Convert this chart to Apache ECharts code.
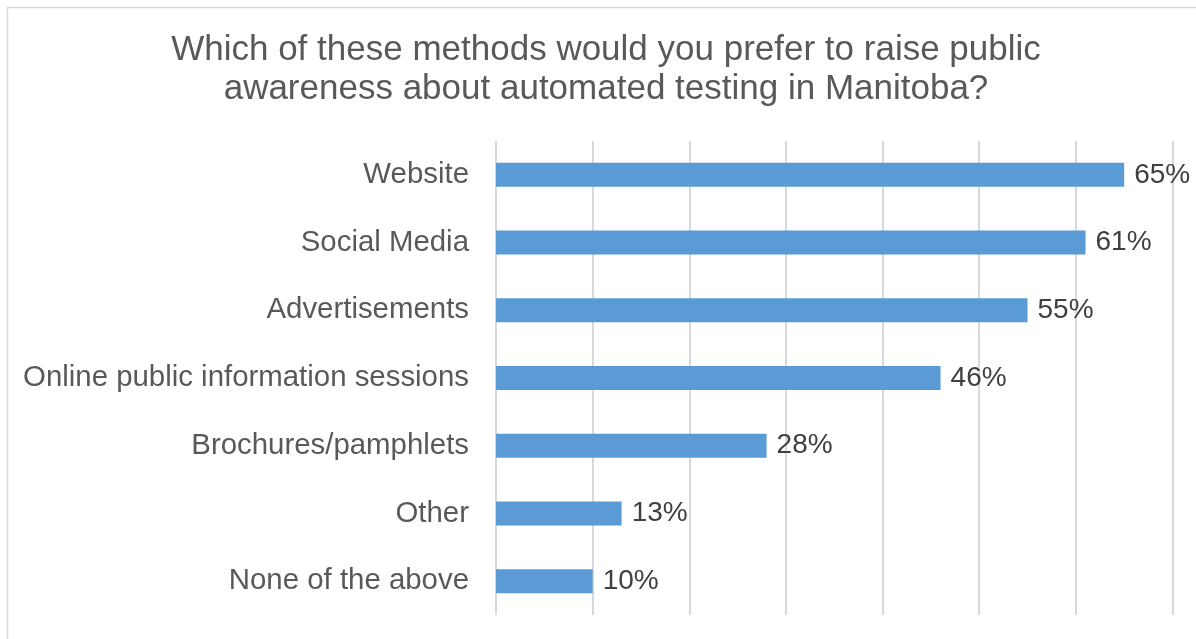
<!DOCTYPE html>
<html>
<head>
<meta charset="utf-8">
<script src="https://cdn.jsdelivr.net/npm/echarts@6/dist/echarts.min.js"></script>
<style>
  html, body { margin: 0; padding: 0; background: #ffffff; }
  #chart { width: 1196px; height: 639px; }
</style>
</head>
<body>
<div id="chart"></div>
<script>
// Survey answers, listed top to bottom
const categories = [
  'Website',
  'Social Media',
  'Advertisements',
  'Online public information sessions',
  'Brochures/pamphlets',
  'Other',
  'None of the above'
];
// Share of respondents (%)
const shares = [65, 61, 55, 46, 28, 13, 10];
// Value axis range (%)
const axisMin = 0;
const axisMax = 70;
const axisStep = 10;

const chart = echarts.init(document.getElementById('chart'), null, { renderer: 'canvas' });

chart.setOption({
  backgroundColor: '#ffffff',
  animation: false,
  textStyle: { fontFamily: 'Liberation Sans, Arial, sans-serif' },
  title: {
    text: 'Which of these methods would you prefer to raise public\nawareness about automated testing in Manitoba?',
    left: 601,
    top: 26,
    textAlign: 'center',
    textStyle: {
      fontFamily: 'Liberation Sans, Arial, sans-serif',
      fontSize: 35,
      fontWeight: 'normal',
      color: '#595959',
      lineHeight: 39
    }
  },
  graphic: [{
    type: 'rect',
    shape: { x: 7.5, y: 7.5, width: 1200, height: 700 },
    style: { fill: 'none', stroke: '#d9d9d9', lineWidth: 1.5 },
    silent: true,
    z: -1
  }],
  grid: { left: 496, right: 23.5, top: 141, bottom: 24, containLabel: false },
  xAxis: {
    type: 'value',
    min: axisMin,
    max: axisMax,
    interval: axisStep,
    axisLabel: { show: false },
    axisLine: { show: false },
    axisTick: { show: false },
    splitLine: { show: true, lineStyle: { color: '#d9d9d9', width: 2 } }
  },
  yAxis: {
    type: 'category',
    inverse: true,
    data: categories,
    axisLine: { show: false },
    axisTick: { show: false },
    axisLabel: {
      margin: 27,
      fontSize: 29.4,
      color: '#595959',
      fontFamily: 'Liberation Sans, Arial, sans-serif'
    }
  },
  series: [{
    type: 'bar',
    data: shares,
    barWidth: 24,
    itemStyle: { color: '#5b9bd5' },
    label: {
      show: true,
      position: 'right',
      distance: 10,
      formatter: p => p.value + '%',
      fontSize: 28,
      color: '#404040',
      fontFamily: 'Liberation Sans, Arial, sans-serif'
    }
  }]
});
</script>
</body>
</html>
